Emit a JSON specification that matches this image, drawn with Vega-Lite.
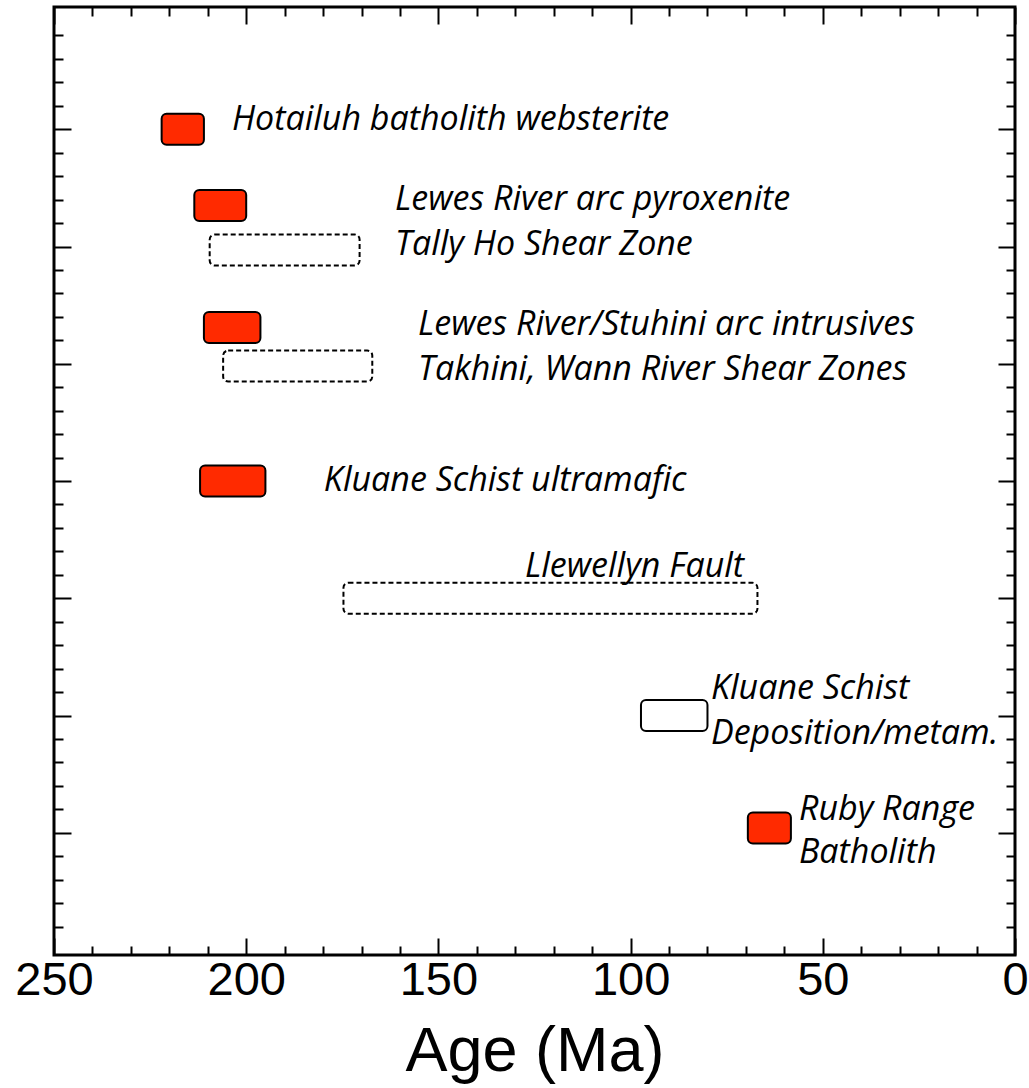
{
  "$schema": "https://vega.github.io/schema/vega-lite/v6.json",
  "autosize": "none",
  "width": 961,
  "height": 948,
  "padding": {"left": 54, "top": 7, "right": 14, "bottom": 133},
  "background": "white",
  "config": {
    "view": {"stroke": "black", "strokeWidth": 3},
    "axis": {"grid": false, "domain": false, "tickColor": "black", "tickWidth": 2, "labelColor": "black", "titleColor": "black"}
  },
  "datasets": {
    "ranges": [
      {"name": "Hotailuh batholith websterite", "kind": "intrusion", "row": 1.0, "start": 222, "end": 211},
      {"name": "Lewes River arc pyroxenite", "kind": "intrusion", "row": 1.65, "start": 213.5, "end": 200},
      {"name": "Tally Ho Shear Zone", "kind": "deformation", "row": 2.03, "start": 209.5, "end": 170.5},
      {"name": "Lewes River/Stuhini arc intrusives", "kind": "intrusion", "row": 2.69, "start": 211, "end": 196.3},
      {"name": "Takhini, Wann River Shear Zones", "kind": "deformation", "row": 3.02, "start": 206, "end": 167.2},
      {"name": "Kluane Schist ultramafic", "kind": "intrusion", "row": 4.0, "start": 212, "end": 195},
      {"name": "Llewellyn Fault", "kind": "deformation", "row": 5.0, "start": 174.7, "end": 67},
      {"name": "Kluane Schist Deposition/metam.", "kind": "metamorphism", "row": 6.0, "start": 97.3, "end": 80},
      {"name": "Ruby Range Batholith", "kind": "intrusion", "row": 6.96, "start": 69.5, "end": 58.3}
    ],
    "labels": [
      {"text": "Hotailuh batholith websterite", "age": 203.7, "row": 0.92},
      {"text": "Lewes River arc pyroxenite", "age": 161.3, "row": 1.6},
      {"text": "Tally Ho Shear Zone", "age": 161.3, "row": 1.99},
      {"text": "Lewes River/Stuhini arc intrusives", "age": 155.3, "row": 2.67},
      {"text": "Takhini, Wann River Shear Zones", "age": 155.3, "row": 3.05},
      {"text": "Kluane Schist ultramafic", "age": 179.8, "row": 4.0},
      {"text": "Llewellyn Fault", "age": 127.5, "row": 4.73},
      {"text": "Kluane Schist", "age": 79.1, "row": 5.77},
      {"text": "Deposition/metam.", "age": 79.1, "row": 6.16},
      {"text": "Ruby Range", "age": 56.2, "row": 6.81},
      {"text": "Batholith", "age": 56.2, "row": 7.17}
    ]
  },
  "resolve": {"axis": {"x": "independent", "y": "independent"}},
  "layer": [
    {
      "data": {"name": "ranges"},
      "transform": [{"filter": "datum.kind === 'intrusion'"}],
      "mark": {"type": "bar", "orient": "horizontal", "size": 31, "cornerRadius": 5, "fill": "#ff2a00", "stroke": "black", "strokeWidth": 2},
      "encoding": {
        "x": {"field": "start", "type": "quantitative",
              "scale": {"domain": [0, 250], "reverse": true, "nice": false, "zero": false},
              "axis": {"orient": "bottom", "values": [0, 50, 100, 150, 200, 250], "tickSize": -17,
                       "labelFont": "Liberation Sans", "labelFontSize": 47, "labelPadding": 19, "labelFlush": false,
                       "title": "Age (Ma)", "titleFont": "Liberation Sans", "titleFontSize": 63, "titleFontWeight": "normal", "titlePadding": 17}},
        "x2": {"field": "end"},
        "y": {"field": "row", "type": "quantitative",
              "scale": {"domain": [0, 8], "reverse": true, "nice": false, "zero": false},
              "axis": {"orient": "left", "values": [1, 2, 3, 4, 5, 6, 7], "tickSize": -17, "labels": false, "title": null}}
      }
    },
    {
      "data": {"name": "ranges"},
      "transform": [{"filter": "datum.kind === 'deformation'"}],
      "mark": {"type": "bar", "orient": "horizontal", "size": 31, "cornerRadius": 5, "fill": "white", "stroke": "black", "strokeWidth": 2, "strokeDash": [5, 3]},
      "encoding": {
        "x": {"field": "start", "type": "quantitative",
              "axis": {"orient": "bottom", "values": [10, 20, 30, 40, 60, 70, 80, 90, 110, 120, 130, 140, 160, 170, 180, 190, 210, 220, 230, 240], "tickSize": -9, "labels": false, "title": null}},
        "x2": {"field": "end"},
        "y": {"field": "row", "type": "quantitative",
              "axis": {"orient": "left", "values": [0.2, 0.4, 0.6, 0.8, 1.2, 1.4, 1.6, 1.8, 2.2, 2.4, 2.6, 2.8, 3.2, 3.4, 3.6, 3.8, 4.2, 4.4, 4.6, 4.8, 5.2, 5.4, 5.6, 5.8, 6.2, 6.4, 6.6, 6.8, 7.2, 7.4, 7.6, 7.8], "tickSize": -9, "labels": false, "title": null}}
      }
    },
    {
      "data": {"name": "ranges"},
      "transform": [{"filter": "datum.kind === 'metamorphism'"}],
      "mark": {"type": "bar", "orient": "horizontal", "size": 31, "cornerRadius": 5, "fill": "white", "stroke": "black", "strokeWidth": 2},
      "encoding": {
        "x": {"field": "start", "type": "quantitative",
              "axis": {"orient": "top", "values": [0, 50, 100, 150, 200, 250], "tickSize": -17, "labels": false, "title": null}},
        "x2": {"field": "end"},
        "y": {"field": "row", "type": "quantitative",
              "axis": {"orient": "right", "values": [1, 2, 3, 4, 5, 6, 7], "tickSize": -17, "labels": false, "title": null}}
      }
    },
    {
      "data": {"name": "labels"},
      "mark": {"type": "text", "align": "left", "baseline": "middle", "font": "Open Sans", "fontStyle": "italic", "fontSize": 34, "color": "black"},
      "encoding": {
        "text": {"field": "text"},
        "x": {"field": "age", "type": "quantitative",
              "axis": {"orient": "top", "values": [10, 20, 30, 40, 60, 70, 80, 90, 110, 120, 130, 140, 160, 170, 180, 190, 210, 220, 230, 240], "tickSize": -9, "labels": false, "title": null}},
        "y": {"field": "row", "type": "quantitative",
              "axis": {"orient": "right", "values": [0.2, 0.4, 0.6, 0.8, 1.2, 1.4, 1.6, 1.8, 2.2, 2.4, 2.6, 2.8, 3.2, 3.4, 3.6, 3.8, 4.2, 4.4, 4.6, 4.8, 5.2, 5.4, 5.6, 5.8, 6.2, 6.4, 6.6, 6.8, 7.2, 7.4, 7.6, 7.8], "tickSize": -9, "labels": false, "title": null}}
      }
    }
  ]
}
